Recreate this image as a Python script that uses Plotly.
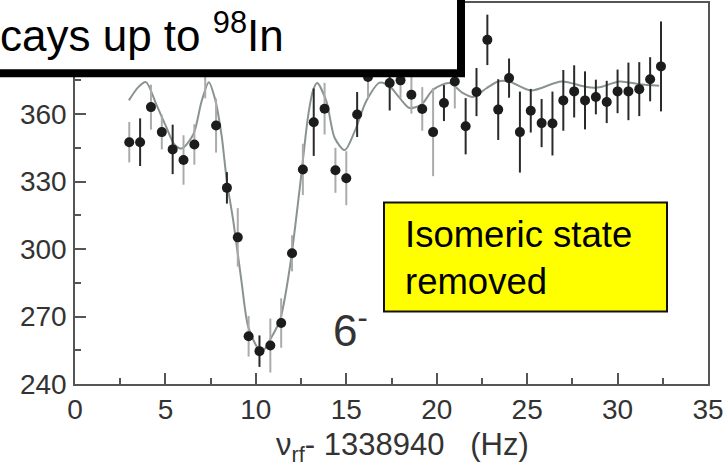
import plotly.graph_objects as go

# ---- measured resonance (frequency offset in Hz, mean time of flight) ----
freq = [3.0, 3.6, 4.2, 4.8, 5.4, 6.0, 6.6, 7.2, 7.8, 8.4, 9.0, 9.6, 10.2, 10.8,
        11.4, 12.0, 12.6, 13.2, 13.8, 14.4, 15.0, 15.6, 16.2, 17.4, 18.0, 18.6,
        19.2, 19.8, 20.4, 21.0, 21.6, 22.2, 22.8, 23.4, 24.0, 24.6, 25.2, 25.8,
        26.4, 27.0, 27.6, 28.2, 28.8, 29.4, 30.0, 30.6, 31.2, 31.8, 32.4]
tof = [347.5, 347.5, 363.1, 352.0, 344.3, 339.6, 346.5, 379.0, 354.9, 327.2,
       305.2, 261.2, 254.6, 257.1, 267.1, 298.1, 335.4, 356.4, 362.4, 335.0,
       331.5, 359.8, 376.5, 373.8, 375.0, 368.6, 362.3, 352.0, 364.9, 374.5,
       354.6, 369.8, 393.0, 362.0, 376.0, 352.0, 361.5, 356.0, 355.8, 366.1,
       370.1, 366.1, 367.6, 365.4, 370.1, 370.1, 371.1, 375.5, 381.2]
tof_err = [9.0, 10.6, 10.0, 7.7, 11.0, 11.0, 9.0, 12.0, 12.0, 7.0,
           13.0, 9.0, 7.0, 12.0, 11.0, 8.0, 11.4, 15.0, 11.5, 10.0,
           12.0, 10.0, 9.4, 12.2, 7.8, 8.4, 9.7, 19.6, 8.0, 12.0,
           12.5, 10.7, 11.2, 13.5, 8.7, 18.0, 9.7, 10.7, 14.2, 13.5,
           11.6, 12.9, 7.7, 9.4, 9.7, 12.8, 12.0, 9.8, 20.0]
# error-bar shade per point: "g" = light grey, "k" = dark
bar_shade = ["g", "k", "g", "g", "k", "g", "g", "g", "g", "k",
             "g", "g", "k", "g", "g", "g", "g", "k", "g", "g",
             "g", "k", "g", "k", "g", "g", "g", "g", "k", "g",
             "k", "k", "k", "k", "k", "k", "k", "k", "k", "k",
             "k", "k", "k", "k", "k", "k", "k", "k", "k"]

# ---- fitted line-shape, sampled along the curve ----
fit_freq = [2.98, 3.5, 3.92, 4.5, 5.07, 5.5, 5.9, 6.54, 7.0, 7.4, 7.73, 8.1,
            8.4, 8.75, 9.2, 9.58, 10.13, 10.4, 10.77, 11.33, 11.88, 12.43,
            12.9, 13.17, 13.39, 13.9, 14.36, 14.92, 15.47, 16.1, 16.85, 17.4,
            17.96, 18.5, 19.15, 19.8, 20.7, 21.45, 22.0, 22.75, 23.4, 24.0,
            25.2, 26.9, 28.3, 29.0, 30.1, 31.2, 32.3]
fit_tof = [366.1, 372.0, 374.2, 364.2, 353.8, 346.5, 344.7, 350.9, 365.7, 374.2,
           367.1, 350.9, 330.0, 312.6, 286.0, 265.4, 255.8, 254.8, 259.5, 268.3,
           291.9, 327.3, 359.8, 370.8, 373.8, 365.7, 349.4, 344.0, 352.4, 365.7,
           374.0, 372.3, 367.1, 362.7, 364.2, 370.8, 373.8, 369.3, 367.6, 371.5,
           374.5, 374.5, 370.5, 374.5, 372.0, 371.9, 374.5, 373.3, 372.6]

x_ticks = [0, 5, 10, 15, 20, 25, 30, 35]
y_ticks = [240, 270, 300, 330, 360]

FONT = "Liberation Sans, Arial, sans-serif"
W, H = 728, 475
L, R, T, B = 75, 20, 1, 91
PW, PH = W - L - R, H - T - B


def px(xp):
    return (xp - L) / PW


def py(yp):
    return (T + PH - yp) / PH


fig = go.Figure()

fig.add_trace(go.Scatter(
    x=fit_freq, y=fit_tof, mode="lines",
    line=dict(color="#8a9393", width=2, shape="spline", smoothing=0.8),
    hoverinfo="skip", showlegend=False))

for shade, col in [("g", "#ababab"), ("k", "#2a2a2a")]:
    idx = [i for i, s in enumerate(bar_shade) if s == shade]
    fig.add_trace(go.Scatter(
        x=[freq[i] for i in idx], y=[tof[i] for i in idx], mode="markers",
        marker=dict(size=10, color="#1c1c1c"),
        error_y=dict(type="data", array=[tof_err[i] for i in idx],
                     color=col, thickness=2, width=0),
        showlegend=False))

axis_common = dict(
    showline=True, linecolor="#555555", linewidth=1.5, mirror=True,
    ticks="inside", ticklen=11, tickwidth=1.5, tickcolor="#555555",
    showgrid=False, zeroline=False,
    tickfont=dict(family=FONT, size=28, color="#333333"),
)

fig.update_xaxes(range=[0, 35], tickvals=x_ticks,
                 minor=dict(ticks="inside", ticklen=6, tickwidth=1.5,
                            tickcolor="#555555", dtick=2.5, tick0=0),
                 **axis_common)
fig.update_yaxes(range=[240, 240 + PH / 2.261], tickvals=y_ticks,
                 ticklabelstandoff=1,
                 minor=dict(ticks="inside", ticklen=6, tickwidth=1.5,
                            tickcolor="#555555", dtick=15, tick0=240),
                 **axis_common)

shapes = [
    # yellow note box
    dict(type="rect", xref="paper", yref="paper",
         x0=px(384), x1=px(667), y0=py(311), y1=py(201.5),
         fillcolor="#ffff00", line=dict(color="#111111", width=2),
         layer="above"),
    # white caption box at the top left
    dict(type="rect", xref="paper", yref="paper",
         x0=px(-40), x1=px(461), y0=py(71.5), y1=py(-40),
         fillcolor="white", line=dict(color="black", width=8),
         layer="above"),
]

annotations = [
    dict(text="ν<sub>rf</sub>- 1338940\u00a0\u00a0\u00a0(Hz)", xref="paper", yref="paper",
         x=px(402), y=py(447), xanchor="center", yanchor="middle",
         showarrow=False, font=dict(family=FONT, size=31, color="#333333")),
    dict(text="6<sup>-</sup>", xref="paper", yref="paper",
         x=px(331), y=py(327), xanchor="left", yanchor="middle",
         showarrow=False, font=dict(family=FONT, size=44, color="#333333")),
    dict(text="Isomeric state<br>removed", xref="paper", yref="paper",
         x=px(403), y=py(257), xanchor="left", yanchor="middle", align="left",
         showarrow=False, font=dict(family=FONT, size=36.5, color="black")),
    dict(text="cays up to <sup>98</sup>In", xref="paper", yref="paper",
         x=px(-2), y=py(31), xanchor="left", yanchor="middle",
         showarrow=False, font=dict(family=FONT, size=44, color="black")),
]

fig.update_layout(
    width=W, height=H,
    margin=dict(l=L, r=R, t=T, b=B),
    paper_bgcolor="white", plot_bgcolor="white",
    shapes=shapes, annotations=annotations,
    showlegend=False,
)

fig.write_html("out.html")
